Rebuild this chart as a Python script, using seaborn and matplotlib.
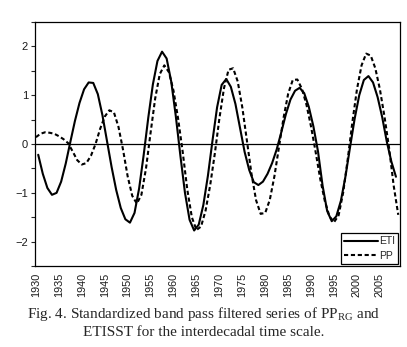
import numpy as np
import pandas as pd
import matplotlib
matplotlib.use("Agg")
import matplotlib.pyplot as plt
import seaborn as sns

# ETI values sit on half years, PP on whole years
eti_years = np.arange(1930.5, 2009, 1.0)
eti = [-0.22, -0.61, -0.90, -1.04, -1.00, -0.77, -0.40, 0.04, 0.47, 0.84,
       1.12, 1.26, 1.25, 1.02, 0.59, 0.06, -0.47, -0.94, -1.31, -1.54,
       -1.61, -1.41, -0.91, -0.22, 0.54, 1.22, 1.70, 1.89, 1.75, 1.28,
       0.57, -0.24, -1.00, -1.55, -1.77, -1.65, -1.25, -0.65, 0.07, 0.75,
       1.21, 1.33, 1.17, 0.82, 0.33, -0.16, -0.53, -0.78, -0.84, -0.77,
       -0.61, -0.39, -0.11, 0.24, 0.61, 0.91, 1.09, 1.15, 1.04, 0.76,
       0.36, -0.15, -0.85, -1.37, -1.58, -1.48, -1.16, -0.66, -0.06, 0.52,
       1.00, 1.31, 1.39, 1.26, 0.96, 0.55, 0.05, -0.36, -0.67]

pp_years = np.arange(1930, 2010)
pp = [0.14, 0.21, 0.24, 0.23, 0.21, 0.16, 0.10, 0.02, -0.15, -0.33,
      -0.42, -0.39, -0.24, 0.00, 0.31, 0.56, 0.69, 0.65, 0.35, -0.12,
      -0.66, -1.06, -1.22, -1.04, -0.50, 0.23, 0.93, 1.43, 1.61, 1.47,
      1.09, 0.52, -0.16, -0.93, -1.50, -1.76, -1.69, -1.36, -0.84, -0.20,
      0.52, 1.14, 1.52, 1.55, 1.28, 0.75, 0.07, -0.61, -1.15, -1.43,
      -1.41, -1.14, -0.66, -0.06, 0.54, 1.03, 1.31, 1.32, 1.13, 0.80,
      0.35, -0.17, -0.72, -1.17, -1.48, -1.60, -1.46, -0.99, -0.30, 0.45,
      1.12, 1.61, 1.85, 1.81, 1.55, 1.12, 0.56, -0.08, -0.85, -1.45]

xticks = list(range(1930, 2010, 5))
yticks = [-2, -1, 0, 1, 2]

sns.set_style("ticks")
plt.rcParams['font.family'] = ['Liberation Sans', 'DejaVu Sans']
plt.rcParams['mathtext.fontset'] = 'custom'
plt.rcParams['mathtext.rm'] = 'Liberation Serif'

fig = plt.figure(figsize=(4.07, 3.47), dpi=100)
ax = fig.add_axes([0.086, 0.233, 0.897, 0.704])

eti_df = pd.DataFrame({"year": eti_years, "value": eti})
pp_df = pd.DataFrame({"year": pp_years, "value": pp})

sns.lineplot(data=eti_df, x="year", y="value", ax=ax, color="black",
             lw=1.5, label="ETI")
sns.lineplot(data=pp_df, x="year", y="value", ax=ax, color="black",
             lw=1.5, linestyle=(0, (2.0, 1.3)), label="PP")

ax.axhline(0, color="black", lw=0.9)

ax.set_xlim(1929.8, 2009.4)
ax.set_ylim(-2.5, 2.5)
ax.set_xticks(xticks)
ax.set_xticklabels([str(t) for t in xticks], rotation=90, fontsize=7.8,
                   color="#1a1a1a")
ax.set_yticks(yticks)
ax.set_yticklabels(["\u22122", "\u22121", "0", "1", "2"], fontsize=8,
                   color="#1a1a1a")
ax.set_yticks(np.arange(-2.5, 2.51, 0.5), minor=True)
ax.tick_params(axis="y", which="both", direction="out", length=3,
               width=0.8, pad=2)
ax.tick_params(axis="x", length=0, pad=5)
ax.set_xlabel("")
ax.set_ylabel("")
for s in ax.spines.values():
    s.set_visible(True)
    s.set_linewidth(0.9)
    s.set_color("black")

leg = ax.legend(loc="lower right", fontsize=7.5, handlelength=3.2,
                handletextpad=0.1, borderpad=0.3, labelspacing=0.45,
                borderaxespad=0.2, fancybox=False, framealpha=1,
                edgecolor="black")
leg.get_frame().set_linewidth(0.9)

fig.text(0.5, 0.095, "Fig. 4. Standardized band pass filtered series of PP$_{\\mathrm{RG}}$ and",
         ha="center", va="center", fontsize=11, family="Liberation Serif")
fig.text(0.5, 0.043, "ETISST for the interdecadal time scale.",
         ha="center", va="center", fontsize=11, family="Liberation Serif")

fig.savefig("out.png", dpi=100)
